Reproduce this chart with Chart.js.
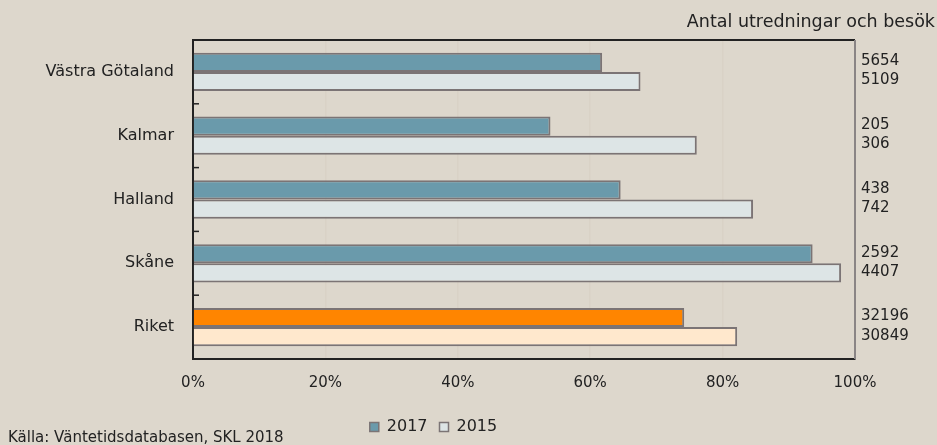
<!DOCTYPE html>
<html>
<head>
<meta charset="utf-8">
<script src="https://cdn.jsdelivr.net/npm/chart.js@4/dist/chart.umd.min.js"></script>
<style>
  html, body { margin: 0; padding: 0; background: #ddd7cc; }
  #wrap { width: 937px; height: 445px; position: relative; }
</style>
</head>
<body>
<div id="wrap"><canvas id="chart"></canvas></div>
<script>
// Data
const regions = ["Västra Götaland", "Kalmar", "Halland", "Skåne", "Riket"];
const share2017 = [61.8, 54.0, 64.6, 93.6, 74.2];
const share2015 = [67.6, 76.1, 84.6, 97.9, 82.2];
const count2017 = ["5654", "205", "438", "2592", "32196"];
const count2015 = ["5109", "306", "742", "4407", "30849"];
const xTicks = [0, 20, 40, 60, 80, 100];

const FONT = "'DejaVu Sans', sans-serif";
const BORDER = "#7b7475";

// Numbers to the right of the plot, one per bar, plus header and source
const sidePlugin = {
  id: "side",
  afterDraw(chart) {
    const ctx = chart.ctx;
    const area = chart.chartArea;
    ctx.save();
    ctx.fillStyle = "#222";
    ctx.font = "15px " + FONT;
    ctx.textBaseline = "middle";
    ctx.textAlign = "left";
    [count2017, count2015].forEach((labels, d) => {
      chart.getDatasetMeta(d).data.forEach((bar, i) => {
        ctx.fillText(labels[i], area.right + 6, bar.y - 1);
      });
    });

    // plot frame: dark top, grey right
    ctx.lineWidth = 2;
    ctx.strokeStyle = "#222";
    ctx.beginPath();
    ctx.moveTo(area.left, area.top);
    ctx.lineTo(area.right, area.top);
    ctx.stroke();
    ctx.strokeStyle = "#8a8585";
    ctx.beginPath();
    ctx.moveTo(area.right, area.top);
    ctx.lineTo(area.right, area.bottom);
    ctx.stroke();

    // small inward ticks between categories
    const y = chart.scales.y;
    ctx.strokeStyle = "#222";
    ctx.lineWidth = 1.5;
    for (let i = 0; i < regions.length - 1; i++) {
      const yy = (y.getPixelForValue(i) + y.getPixelForValue(i + 1)) / 2;
      ctx.beginPath();
      ctx.moveTo(area.left, yy);
      ctx.lineTo(area.left + 6, yy);
      ctx.stroke();
    }

    ctx.textAlign = "right";
    ctx.font = "17.5px " + FONT;
    ctx.fillText("Antal utredningar och besök", chart.width - 2, 22);
    ctx.textAlign = "left";
    ctx.font = "15px " + FONT;
    ctx.fillText("Källa: Väntetidsdatabasen, SKL 2018", 8, 438);
    ctx.restore();
  }
};

new Chart(document.getElementById("chart"), {
  type: "bar",
  data: {
    labels: regions,
    datasets: [
      {
        label: "2017",
        data: share2017,
        backgroundColor: ["#6a9aab", "#6a9aab", "#6a9aab", "#6a9aab", "#ff8500"],
        borderColor: BORDER,
        borderWidth: 2,
        borderSkipped: "start",
      },
      {
        label: "2015",
        data: share2015,
        backgroundColor: ["#dde5e6", "#dde5e6", "#dde5e6", "#dde5e6", "#ffe8cd"],
        borderColor: BORDER,
        borderWidth: 2,
        borderSkipped: "start",
      },
    ],
  },
  options: {
    indexAxis: "y",
    responsive: true,
    maintainAspectRatio: false,
    animation: false,
    layout: { padding: { top: 40, right: 82, left: 12, bottom: 0 } },
    datasets: { bar: { categoryPercentage: 0.6, barPercentage: 1.0 } },
    scales: {
      x: {
        min: 0,
        max: 100,
        afterBuildTicks(scale) {
          scale.ticks = xTicks.map(v => ({ value: v }));
        },
        afterFit(scale) { scale.height = 48; },
        grid: { color: "#d9d2c6", lineWidth: 1.5, drawTicks: false },
        border: { color: "#222", width: 2 },
        ticks: {
          padding: 15,
          color: "#222",
          font: { family: FONT, size: 15 },
          callback: v => v + "%",
        },
      },
      y: {
        afterFit(scale) { scale.width = 181; },
        grid: { display: false },
        border: { color: "#222", width: 2 },
        ticks: {
          padding: 11,
          color: "#222",
          font: { family: FONT, size: 16 },
        },
      },
    },
    plugins: {
      legend: {
        position: "bottom",
        labels: {
          color: "#222",
          font: { family: FONT, size: 16 },
          boxWidth: 9,
          boxHeight: 9,
          padding: 12,
          generateLabels(chart) {
            return chart.data.datasets.map((ds, i) => ({
              text: ds.label,
              fillStyle: ds.backgroundColor[0],
              strokeStyle: BORDER,
              lineWidth: 1.5,
              datasetIndex: i,
              fontColor: "#222",
            }));
          },
        },
      },
      tooltip: { enabled: false },
    },
  },
  plugins: [sidePlugin],
});
</script>
</body>
</html>
